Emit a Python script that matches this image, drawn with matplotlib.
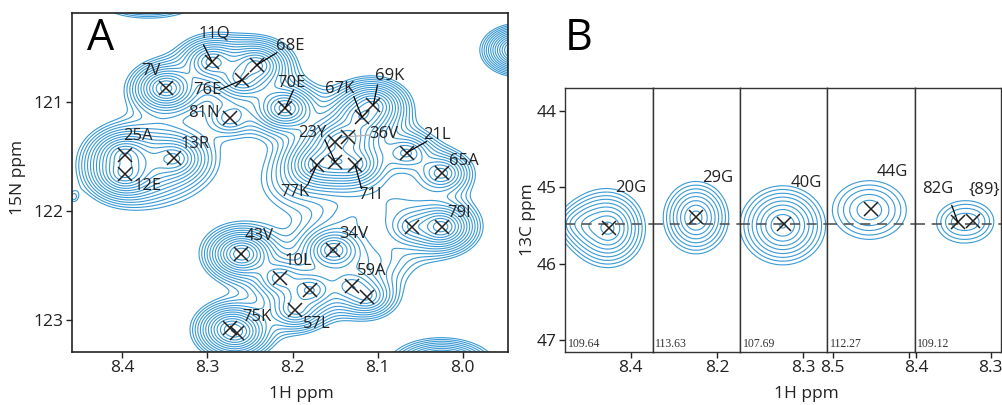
import numpy as np
import matplotlib.pyplot as plt

plt.rcParams['font.family'] = ['Open Sans', 'DejaVu Sans']

CONTOUR = '#3a9ad6'

# ---- Panel A: 1H-15N spectrum, assigned peaks (1H ppm, 15N ppm, height)
a_h = [8.2946, 8.242, 8.2595, 8.3485, 8.2088, 8.274, 8.3973, 8.3973, 8.3387,
       8.1187, 8.1051, 8.150, 8.1344, 8.150, 8.1714, 8.1266, 8.066, 8.025,
       8.0601, 8.025, 8.152, 8.260, 8.2152, 8.1793, 8.1969, 8.2738, 8.2652,
       8.1305, 8.1121]
a_n = [120.626, 120.657, 120.795, 120.871, 121.055, 121.147, 121.484, 121.658,
       121.515, 121.132, 121.025, 121.361, 121.316, 121.545, 121.576, 121.576,
       121.463, 121.652, 122.143, 122.143, 122.357, 122.394, 122.617, 122.724,
       122.908, 123.077, 123.117, 122.688, 122.786]
a_amp = [12, 14, 10, 16, 16, 3, 14, 16, 10,
         12, 12, 10, 12, 16, 12, 16, 7, 8,
         5, 16, 14, 18, 7, 10, 7, 10, 10,
         6, 6]
a_wh = 0.013
a_wn = 0.075

# unassigned / edge / broad intensity (1H, 15N, height, width 1H, width 15N)
x_h = [8.37, 7.935, 8.025, 8.13, 8.08, 8.20, 8.457, 8.10, 8.36]
x_n = [120.05, 120.52, 123.45, 122.05, 121.90, 121.75, 121.87, 122.45, 121.56]
x_amp = [8, 25, 25, 1.8, 1.8, 1.5, 1.1, 2.0, 3.5]
x_wh = [0.02, 0.011, 0.016, 0.025, 0.025, 0.025, 0.004, 0.025, 0.026]
x_wn = [0.06, 0.06, 0.07, 0.12, 0.12, 0.15, 0.04, 0.12, 0.17]

# peak labels: text, label 1H, label 15N
lab_txt = ['11Q', '68E', '76E', '7V', '70E', '81N', '25A', '12E', '13R', '67K',
           '69K', '23Y', '36V', '21L', '65A', '77K', '71I', '79I', '34V', '43V',
           '10L', '57L', '75K', '59A']
lab_h = [8.2915, 8.2025, 8.3005, 8.366, 8.201, 8.304, 8.3813, 8.3707, 8.3141,
         8.1444, 8.0859, 8.1768, 8.0925, 8.0304, 7.9992, 8.1975, 8.1085, 8.0039,
         8.128, 8.2392, 8.1928, 8.1721, 8.242, 8.1069]
lab_n = [120.366, 120.479, 120.887, 120.712, 120.82, 121.095, 121.309, 121.766,
         121.383, 120.877, 120.758, 121.285, 121.291, 121.30, 121.536, 121.827,
         121.851, 122.013, 122.21, 122.225, 122.461, 123.037, 122.975, 122.547]

# leader lines: start (1H, 15N), peak index
line_h = [8.3044, 8.2185, 8.2849, 8.199, 8.128, 8.1003, 8.162, 8.1093, 8.0429,
          8.1815, 8.119]
line_n = [120.473, 120.544, 120.881, 120.887, 120.948, 120.841, 121.346, 121.30,
          121.361, 121.744, 121.79]
line_to = [0, 1, 2, 4, 9, 10, 13, 12, 16, 14, 15]
line_col = ['k'] * 7 + ['0.7'] + ['k'] * 3

# ---- Panel B: 1H-13C strips for glycines
strip_xlim = [(8.486, 8.371), (8.285, 8.170), (8.383, 8.269),
              (8.5075, 8.3925), (8.4017, 8.286)]
strip_ticks = [[8.4], [8.2], [8.3], [8.5, 8.4], [8.4, 8.3]]
strip_ticklabels = [['8.4'], ['8.2'], ['8.3'], ['8.5', ''], ['8.4', '8.3']]
strip_n15 = ['109.64', '113.63', '107.69', '112.27', '109.12']

g_strip = [0, 0, 0, 1, 2, 3, 4, 4]
g_h = [8.428, 8.455, 8.475, 8.228, 8.327, 8.452, 8.346, 8.322]
g_c = [45.54, 45.50, 45.48, 45.40, 45.50, 45.30, 45.46, 45.45]
g_amp = [1.0, 0.3, 0.18, 0.85, 1.0, 0.42, 0.2, 0.2]
g_wh = [0.016, 0.012, 0.012, 0.0155, 0.019, 0.024, 0.018, 0.018]
g_wc = [0.17, 0.13, 0.11, 0.17, 0.175, 0.19, 0.15, 0.15]

gx_strip = [0, 1, 2, 3, 4, 4]
gx_h = [8.428, 8.228, 8.326, 8.450, 8.344, 8.3236]
gx_c = [45.54, 45.395, 45.48, 45.29, 45.457, 45.444]

gl_strip = [0, 1, 2, 3, 4, 4]
gl_txt = ['20G', '29G', '40G', '44G', '82G', '{89}']
gl_h = [8.40, 8.20, 8.296, 8.4216, 8.371, 8.309]
gl_c = [45.01, 44.88, 44.94, 44.80, 45.03, 45.03]

ref_c = 45.48


def spectrum(X, Y, hs, ns, amps, whs, wns):
    Z = np.zeros_like(X)
    for h, n, a, wh, wn in zip(hs, ns, amps, whs, wns):
        r = np.sqrt(1 + ((X - h) / wh) ** 2 + ((Y - n) / wn) ** 2) - 1
        Z += a * np.exp(-r)
    return Z


fig = plt.figure(figsize=(10.03, 4.05), dpi=100)
W, H = 1003, 405


def box(l, t, r, b):
    return [l / W, 1 - b / H, (r - l) / W, (b - t) / H]


# ---------------- Panel A
ax = fig.add_axes(box(72, 13, 508, 352))
xa = np.linspace(7.90, 8.50, 500)
ya = np.linspace(119.9, 123.6, 500)
XA, YA = np.meshgrid(xa, ya)
ZA = spectrum(XA, YA,
              a_h + x_h, a_n + x_n, a_amp + x_amp,
              [a_wh] * len(a_h) + x_wh, [a_wn] * len(a_n) + x_wn)
levels_a = 1.0 * 1.25 ** np.arange(16)
ax.contour(XA, YA, ZA, levels=levels_a, colors=CONTOUR, linewidths=0.8)
ax.plot(a_h, a_n, 'x', color='#222222', ms=10, mew=1.1, ls='none')
for h0, n0, i, c in zip(line_h, line_n, line_to, line_col):
    ax.plot([h0, a_h[i]], [n0, a_n[i]], color=c, lw=0.9)
for t, h, n in zip(lab_txt, lab_h, lab_n):
    ax.text(h, n, t, ha='center', va='center', fontsize=12, color='#222222')
ax.set_xlim(8.459, 7.947)
ax.set_ylim(123.294, 120.179)
ax.set_xticks([8.4, 8.3, 8.2, 8.1, 8.0])
ax.set_xticklabels(['8.4', '8.3', '8.2', '8.1', '8.0'])
ax.set_yticks([121, 122, 123])
ax.tick_params(direction='out', length=4, width=1, labelsize=12.5, colors='#222222', pad=2)
for s in ax.spines.values():
    s.set_linewidth(1.2)
    s.set_color('#222222')
fig.text(87 / W, 1 - 39 / H, 'A', fontsize=31, va='center', ha='left')
fig.text(301 / W, 1 - 394 / H, '1H ppm', fontsize=12.5, ha='center', va='center', color='#222222')
fig.text(18 / W, 1 - 177 / H, '15N ppm', fontsize=12.5, ha='center', va='center',
         rotation=90, color='#222222')

# ---------------- Panel B
edges = [565, 652.7, 740, 827, 914.7, 1001]
yb = np.linspace(43.5, 47.3, 300)
for k in range(5):
    bx = fig.add_axes(box(edges[k], 87.7, edges[k + 1], 352))
    lo, hi = strip_xlim[k]
    xb = np.linspace(hi - 0.02, lo + 0.02, 300)
    XB, YB = np.meshgrid(xb, yb)
    sel = [i for i, s in enumerate(g_strip) if s == k]
    ZB = spectrum(XB, YB, [g_h[i] for i in sel], [g_c[i] for i in sel],
                  [g_amp[i] for i in sel], [g_wh[i] for i in sel], [g_wc[i] for i in sel])
    bx.contour(XB, YB, ZB, levels=0.12 * 1.3 ** np.arange(9), colors=CONTOUR, linewidths=0.8)
    bx.axhline(ref_c, color='#555555', lw=1.2, ls=(0, (6, 4)))
    for i, s in enumerate(gx_strip):
        if s == k:
            bx.plot(gx_h[i], gx_c[i], 'x', color='#222222', ms=10, mew=1.1)
    for i, s in enumerate(gl_strip):
        if s == k:
            bx.text(gl_h[i], gl_c[i], gl_txt[i], ha='center', va='center',
                    fontsize=12, color='#222222')
    if k == 4:
        bx.plot([8.352, gx_h[4]], [45.24, gx_c[4]], color='k', lw=0.9)
    bx.text(0.03, 0.008, strip_n15[k], transform=bx.transAxes, ha='left', va='bottom',
            fontsize=8.5, family='Liberation Serif', color='#333333')
    bx.set_xlim(lo, hi)
    bx.set_ylim(47.157, 43.70)
    bx.set_xticks(strip_ticks[k])
    bx.set_xticklabels(strip_ticklabels[k])
    if k == 0:
        bx.set_yticks([44, 45, 46, 47])
    else:
        bx.set_yticks([])
    bx.tick_params(direction='out', length=4, width=1, labelsize=12.5, colors='#222222', pad=2)
    for s in bx.spines.values():
        s.set_linewidth(1.0)
        s.set_color('#333333')
fig.text(565 / W, 1 - 39 / H, 'B', fontsize=31, va='center', ha='left')
fig.text(806 / W, 1 - 394 / H, '1H ppm', fontsize=12.5, ha='center', va='center', color='#222222')
fig.text(528 / W, 1 - 220 / H, '13C ppm', fontsize=12.5, ha='center', va='center',
         rotation=90, color='#222222')

fig.savefig('out.png', dpi=100)
